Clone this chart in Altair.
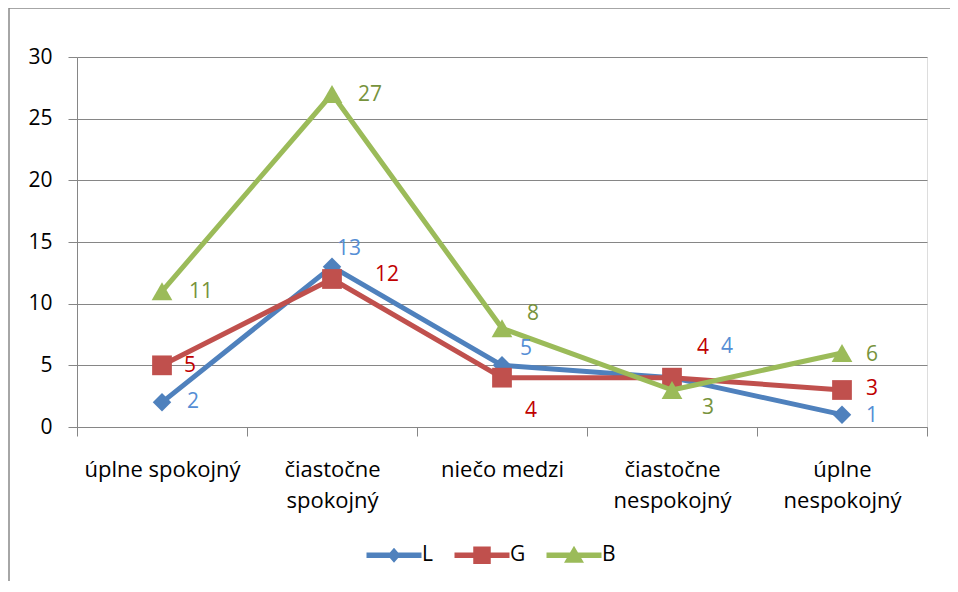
import altair as alt
import pandas as pd

# ---------------- data ----------------
categories = ["úplne spokojný", "čiastočne spokojný", "niečo medzi",
              "čiastočne nespokojný", "úplne nespokojný"]
series_names = ["L", "G", "B"]
values_L = [2, 13, 5, 4, 1]
values_G = [5, 12, 4, 4, 3]
values_B = [11, 27, 8, 3, 6]
y_ticks = [0, 5, 10, 15, 20, 25, 30]

series_values = {"L": values_L, "G": values_G, "B": values_B}

# ---------------- styles ----------------
line_colors = {"L": "#4F81BD", "G": "#C0504D", "B": "#9BBB59"}
label_colors = {"L": "#558ED5", "G": "#C00000", "B": "#77933C"}
marker_shapes = {"L": "diamond", "G": "square", "B": "triangle-up"}
marker_sizes = {"L": 340, "G": 390, "B": 430}
# data-label offsets (dx, dy) in pixels, per point
label_offsets = {
    "L": [(31, 0), (17, -18), (24, -16), (55, -31), (30, 1)],
    "G": [(28, 1), (55, -4), (29, 33), (31, -30), (30, -1)],
    "B": [(39, 1), (38, 1), (31, -14), (36, 18), (30, 2)],
}
legend_paths = [
    "M-5.5,-0.55H5.5V0.55H-5.5Z M0,-1.5L1.3,0L0,1.5L-1.3,0Z",
    "M-5.5,-0.55H5.5V0.55H-5.5Z M-1.75,-1.75H1.75V1.75H-1.75Z",
    "M-5.5,-0.55H5.5V0.55H-5.5Z M0,-1.9L2,1.5L-2,1.5Z",
]
FONT = "Open Sans"
FS = 21
GRAY = "#868686"

rows = []
for s in series_names:
    for i, c in enumerate(categories):
        rows.append({"series": s, "category": c, "value": series_values[s][i], "idx": i})
df = pd.DataFrame(rows)

x_enc = alt.X(
    "category:N",
    sort=categories,
    bandPosition=0.5,
    scale=alt.Scale(type="band", paddingInner=0, paddingOuter=0, domain=categories),
    axis=alt.Axis(
        title=None, labelAngle=0, tickBand="extent", tickSize=9, tickColor=GRAY,
        domainColor=GRAY, labelFont=FONT, labelFontSize=22, labelColor="#000000",
        labelPadding=23, labelLineHeight=31, labelLimit=0, grid=False,
        labelExpr="(datum.label == 'úplne spokojný' || datum.label == 'niečo medzi') ? datum.label : split(datum.label, ' ')",
    ),
)
y_enc = alt.Y(
    "value:Q",
    scale=alt.Scale(domain=[0, 30], nice=False),
    axis=alt.Axis(
        title=None, values=y_ticks, tickSize=9, tickColor=GRAY, domainColor=GRAY,
        gridColor=GRAY, grid=True, labelFont=FONT, labelFontSize=FS,
        labelColor="#000000", labelPadding=16,
    ),
)

base = alt.Chart(df)
layers = []

# outer chart border (only left/top visible in the frame)
border = alt.Chart(pd.DataFrame({"a": [0]})).mark_rect(
    fillOpacity=0, stroke="#898989", strokeWidth=1.5
).encode(
    x=alt.value(-68), x2=alt.value(1000), y=alt.value(-49), y2=alt.value(1000)
)
layers.append(border)

for s in series_names:
    sub = base.transform_filter(alt.datum.series == s)
    layers.append(
        sub.mark_line(color=line_colors[s], strokeWidth=5, strokeJoin="round")
        .encode(x=x_enc, y=y_enc, order="idx:Q")
    )
    layers.append(
        sub.mark_point(shape=marker_shapes[s], filled=True, opacity=1,
                       color=line_colors[s], size=marker_sizes[s])
        .encode(x=x_enc, y=y_enc)
    )

for s in series_names:
    for i, c in enumerate(categories):
        dx, dy = label_offsets[s][i]
        layers.append(
            base.transform_filter((alt.datum.series == s) & (alt.datum.idx == i))
            .mark_text(dx=dx, dy=dy, align="center", baseline="middle",
                       font=FONT, fontSize=FS, color=label_colors[s])
            .encode(x=x_enc, y=y_enc, text="value:Q")
        )

legend = alt.Legend(
    title=None, orient="none", legendX=306.5, legendY=487.5, direction="horizontal",
    symbolSize=100, labelOffset=17.5, columnPadding=21, labelFont=FONT,
    labelFontSize=FS, labelColor="#000000", symbolStrokeWidth=0, padding=0,
    symbolOpacity=1,
)
legend_layer = base.transform_filter("datum.value < 0").mark_point(filled=True).encode(
    x=x_enc, y=y_enc,
    color=alt.Color("series:N", scale=alt.Scale(domain=series_names,
                    range=[line_colors[s] for s in series_names]), legend=legend),
    shape=alt.Shape("series:N", scale=alt.Scale(domain=series_names, range=legend_paths),
                    legend=legend),
)
layers.append(legend_layer)

chart = alt.layer(*layers).properties(
    width=850, height=370,
    autosize=alt.AutoSizeParams(type="none"),
    padding={"left": 69, "top": 49, "right": 23, "bottom": 154},
).configure_view(stroke=None).configure(background="#ffffff")

chart.save("out.html", embed_options={"renderer": "svg", "actions": False})
